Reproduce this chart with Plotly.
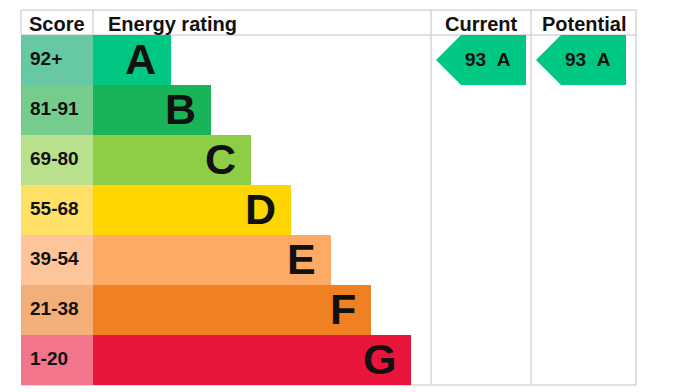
import plotly.graph_objects as go

# ---- data ----
bands = ["A", "B", "C", "D", "E", "F", "G"]
score_ranges = ["92+", "81-91", "69-80", "55-68", "39-54", "21-38", "1-20"]
band_colors = ["#00c781", "#19b459", "#8dce46", "#ffd500", "#fcaa65", "#ef8023", "#e9153b"]
score_colors = ["#66c9a3", "#75cc8d", "#b9e08c", "#ffe066", "#fec59a", "#f4ae78", "#f2758b"]
headers = ["Score", "Energy rating", "Current", "Potential"]
current_score = 93
current_band = "A"
potential_score = 93
potential_band = "A"

# ---- layout geometry (pixels) ----
W, H = 697, 392
OFF = 8  # page body margin
left, score_right = 21, 93
col_cur, col_pot, right = 431, 531, 636
top, head_bot = 10, 35
row_h = 50
bar_min, bar_step = 78, 40
grid = "#d6d6d6"
FONT = "Arial, Liberation Sans, sans-serif"

n = len(bands)
row_c = [head_bot + row_h * (i + 0.5) for i in range(n)]
bar_len = [bar_min + bar_step * i for i in range(n)]

fig = go.Figure()

# score cells
fig.add_trace(go.Bar(orientation="h", y=row_c, x=[score_right - left] * n, base=left,
                     width=row_h, marker=dict(color=score_colors, line=dict(width=0)),
                     hoverinfo="skip", showlegend=False))
# rating bars
fig.add_trace(go.Bar(orientation="h", y=row_c, x=bar_len, base=score_right,
                     width=row_h, marker=dict(color=band_colors, line=dict(width=0)),
                     hoverinfo="skip", showlegend=False))

ann = []
for i in range(n):
    ann.append(dict(x=left + 7, y=row_c[i] - 2, text=f"<b>{score_ranges[i]}</b>", xanchor="left",
                    yanchor="middle", showarrow=False, font=dict(family=FONT, size=19, color="#111")))
    ann.append(dict(x=score_right + bar_len[i] - 13, y=row_c[i] - 1, text=f"<b>{bands[i]}</b>",
                    xanchor="right", yanchor="middle", showarrow=False,
                    font=dict(family=FONT, size=43, color="#111")))

# arrows for current / potential
def arrow(col_left, score, band):
    i = bands.index(band)
    y0, y1 = head_bot + row_h * i, head_bot + row_h * (i + 1)
    xt, xb, xr = col_left + 5, col_left + 30, col_left + 95
    fig.add_trace(go.Scatter(x=[xt, xb, xr, xr, xb, xt], y=[(y0 + y1) / 2, y0, y0, y1, y1, (y0 + y1) / 2],
                             mode="lines", fill="toself", fillcolor=band_colors[i],
                             line=dict(width=0, color=band_colors[i]), hoverinfo="skip", showlegend=False))
    ann.append(dict(x=col_left + 57, y=(y0 + y1) / 2 - 1, text=f"<b>{score}&nbsp;&nbsp;{band}</b>",
                    xanchor="center", yanchor="middle", showarrow=False,
                    font=dict(family=FONT, size=19, color="#111")))

arrow(col_cur, current_score, current_band)
arrow(col_pot, potential_score, potential_band)

# headers
hy = (top + head_bot) / 2 + 1
hfont = dict(family=FONT, size=20, color="#111")
ann.append(dict(x=(left + score_right) / 2, y=hy, text=f"<b>{headers[0]}</b>", xanchor="center", yanchor="middle",
                showarrow=False, font=hfont))
ann.append(dict(x=score_right + 13, y=hy, text=f"<b>{headers[1]}</b>", xanchor="left", yanchor="middle",
                showarrow=False, font=hfont))
ann.append(dict(x=(col_cur + col_pot) / 2, y=hy, text=f"<b>{headers[2]}</b>", xanchor="center", yanchor="middle",
                showarrow=False, font=hfont))
ann.append(dict(x=(col_pot + right) / 2, y=hy, text=f"<b>{headers[3]}</b>", xanchor="center", yanchor="middle",
                showarrow=False, font=hfont))

bottom = head_bot + row_h * n
shapes = []
line = dict(color=grid, width=1.5)
for yy in (top, head_bot, bottom):
    shapes.append(dict(type="line", x0=left, x1=right, y0=yy, y1=yy, line=line, layer="below"))
for xx in (left, score_right):
    shapes.append(dict(type="line", x0=xx, x1=xx, y0=top, y1=head_bot, line=line, layer="below"))
for xx in (col_cur, col_pot, right):
    shapes.append(dict(type="line", x0=xx, x1=xx, y0=top, y1=bottom, line=line, layer="below"))

fig.update_layout(
    width=W, height=H, margin=dict(l=0, r=0, t=0, b=0),
    paper_bgcolor="white", plot_bgcolor="white", barmode="overlay", bargap=0,
    xaxis=dict(range=[OFF, W + OFF], visible=False, fixedrange=True),
    yaxis=dict(range=[H + OFF, OFF], visible=False, fixedrange=True),
    annotations=ann, shapes=shapes, showlegend=False,
)
fig.write_html("out.html", config={"displayModeBar": False})
